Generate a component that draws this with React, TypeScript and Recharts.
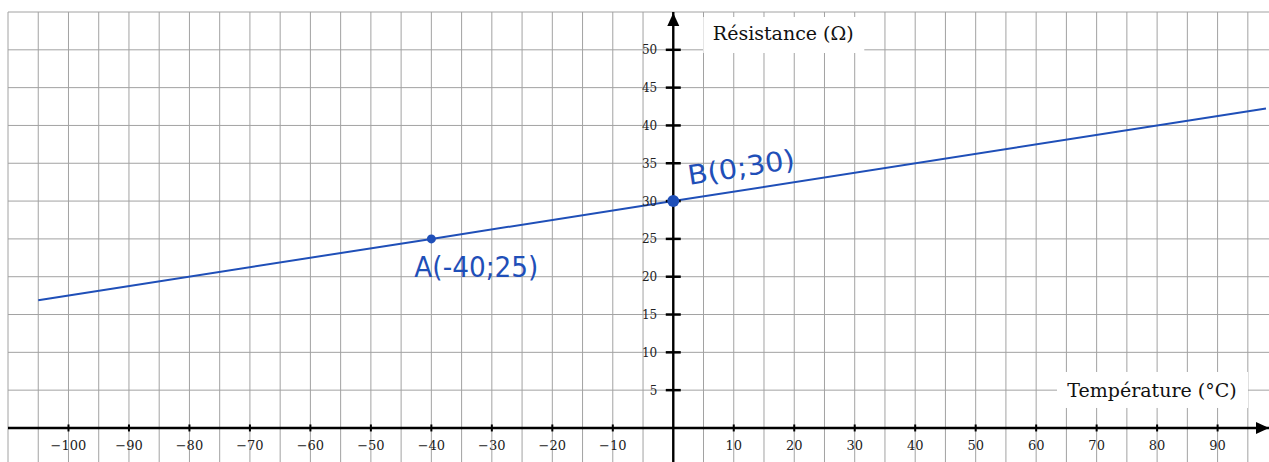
import React from 'react';
import { ComposedChart, Line, Scatter, XAxis, YAxis, ReferenceLine, ReferenceDot } from 'recharts';

// resistance vs temperature line (endpoints)
const lineX = [-105, -40, 0, 98];
const lineY = [16.9, 25, 30, 42.25];

const pointNames = ['A(-40;25)', 'B(0;30)'];
const pointX = [-40, 0];
const pointY = [25, 30];

const xTicks = [-100, -90, -80, -70, -60, -50, -40, -30, -20, -10, 10, 20, 30, 40, 50, 60, 70, 80, 90];
const yTicks = [5, 10, 15, 20, 25, 30, 35, 40, 45, 50];

const gridX = [-110, -105, -100, -95, -90, -85, -80, -75, -70, -65, -60, -55, -50, -45, -40, -35, -30, -25, -20, -15, -10, -5,
  0, 5, 10, 15, 20, 25, 30, 35, 40, 45, 50, 55, 60, 65, 70, 75, 80, 85, 90, 95];
const gridY = [0, 5, 10, 15, 20, 25, 30, 35, 40, 45, 50, 55];

const xTitle = 'Température (°C)';
const yTitle = 'Résistance (Ω)';

const X_MIN = -110;
const X_MAX = 98.5;
const Y_MIN = -4.5;
const Y_MAX = 55;

const BLUE = '#1f4fb8';
const SERIF = "'DejaVu Serif', serif";
const HAND = "'DejaVu Sans', sans-serif";

const lineData = lineX.map((x, i) => ({ x, y: lineY[i] }));
const pointData = pointX.map((x, i) => ({ x, y: pointY[i], name: pointNames[i] }));

const fmt = (v: number) => (v < 0 ? `\u2212${Math.abs(v)}` : `${v}`);

const PointShape = (props: any) => {
  const { cx, cy, payload } = props;
  if (payload.x === 0) {
    return (
      <g>
        <circle cx={cx} cy={cy} r={6} fill={BLUE} />
        <text x={cx + 16} y={cy - 16} fontFamily={HAND} fontSize={27} fill={BLUE}
          textLength={108} lengthAdjust="spacingAndGlyphs"
          transform={`rotate(-9 ${cx + 16} ${cy - 16})`}>{payload.name}</text>
      </g>
    );
  }
  return (
    <g>
      <circle cx={cx} cy={cy} r={4.5} fill={BLUE} />
      <text x={cx - 17} y={cy + 38} fontFamily={HAND} fontSize={28} fill={BLUE}
        textLength={124} lengthAdjust="spacingAndGlyphs">{payload.name}</text>
    </g>
  );
};

export default function App() {
  return (
    <div style={{ position: 'absolute', left: 0, top: 0, background: '#fff' }}>
      <ComposedChart width={1269} height={462} data={lineData} margin={{ top: 12, right: 0, bottom: 0, left: 8 }}>
        <XAxis type="number" dataKey="x" domain={[X_MIN, X_MAX]} allowDataOverflow hide />
        <YAxis type="number" dataKey="y" domain={[Y_MIN, Y_MAX]} allowDataOverflow hide />

        {gridX.map((v) => (
          <ReferenceLine key={`gx${v}`} x={v} stroke="#a2a2a2" strokeWidth={1} />
        ))}
        {gridY.map((v) => (
          <ReferenceLine key={`gy${v}`} y={v} stroke="#a2a2a2" strokeWidth={1} />
        ))}

        {/* axis titles in white boxes */}
        <ReferenceDot x={0} y={Y_MAX} ifOverflow="visible" shape={(p: any) => (
          <g>
            <rect x={p.cx + 30} y={p.cy + 5} width={161} height={36} fill="#fff" />
            <text x={p.cx + 110} y={p.cy + 28} textAnchor="middle" fontFamily={SERIF} fontSize={19} fill="#111">{yTitle}</text>
          </g>
        )} />
        <ReferenceDot x={X_MAX} y={0} ifOverflow="visible" shape={(p: any) => (
          <g>
            <rect x={p.cx - 212} y={p.cy - 56} width={191} height={36} fill="#fff" />
            <text x={p.cx - 117} y={p.cy - 31} textAnchor="middle" fontFamily={SERIF} fontSize={19} fill="#111">{xTitle}</text>
          </g>
        )} />

        {/* axes */}
        <ReferenceLine y={0} stroke="#000" strokeWidth={2.4} />
        <ReferenceLine x={0} stroke="#000" strokeWidth={2.4} />
        <ReferenceDot x={X_MAX} y={0} ifOverflow="visible" shape={(p: any) => (
          <path d={`M${p.cx},${p.cy} l-13,-6 l0,12 z`} fill="#000" />
        )} />
        <ReferenceDot x={0} y={Y_MAX} ifOverflow="visible" shape={(p: any) => (
          <path d={`M${p.cx},${p.cy + 1} l-6,13 l12,0 z`} fill="#000" />
        )} />

        {xTicks.map((v) => (
          <ReferenceDot key={`tx${v}`} x={v} y={0} ifOverflow="visible" shape={(p: any) => (
            <g>
              <line x1={p.cx} x2={p.cx} y1={p.cy - 3.5} y2={p.cy + 3.5} stroke="#000" strokeWidth={2} />
              <text x={p.cx} y={p.cy + 22} textAnchor="middle" fontFamily={SERIF} fontSize={13} fill="#222">{fmt(v)}</text>
            </g>
          )} />
        ))}
        {yTicks.map((v) => (
          <ReferenceDot key={`ty${v}`} x={0} y={v} ifOverflow="visible" shape={(p: any) => (
            <g>
              <line x1={p.cx - 7.5} x2={p.cx + 7.5} y1={p.cy} y2={p.cy} stroke="#000" strokeWidth={2.5} />
              <text x={p.cx - 16} y={p.cy + 4.5} textAnchor="end" fontFamily={SERIF} fontSize={12} fill="#222">{v}</text>
            </g>
          )} />
        ))}

        <Line type="linear" dataKey="y" stroke={BLUE} strokeWidth={2} dot={false} activeDot={false} isAnimationActive={false} />
        <Scatter data={pointData} dataKey="y" shape={<PointShape />} isAnimationActive={false} />
      </ComposedChart>
    </div>
  );
}
